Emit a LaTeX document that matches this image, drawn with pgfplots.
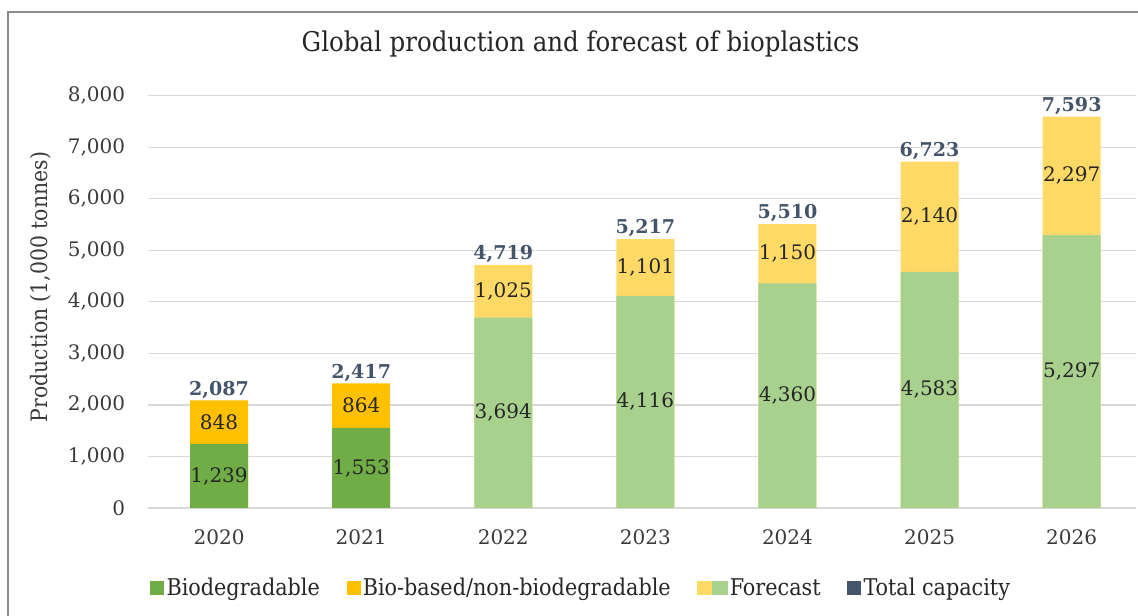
\documentclass[border=0pt]{standalone}
\usepackage{pgfplots}
\usepackage{pgfplotstable}
\pgfplotsset{compat=1.18}
\usepackage{fontspec}
\setmainfont{DejaVu Serif}
\newfontfamily\condfont{DejaVu Serif Condensed}
\definecolor{bioD}{HTML}{70AD47}
\definecolor{bioB}{HTML}{FFC000}
\definecolor{fcY}{HTML}{FFD966}
\definecolor{fcG}{HTML}{A9D18E}
\definecolor{totC}{HTML}{44546A}
\definecolor{tickC}{HTML}{3A3A3A}
\definecolor{labC}{HTML}{262626}
\definecolor{gridC}{HTML}{D9D9D9}
\definecolor{frameC}{HTML}{8C8C8C}

\pgfplotstableread{
x bot top tot
0 1239 848 2087
1 1553 864 2417
}\actualdata
\pgfplotstableread{
x bot top tot
2 3694 1025 4719
3 4116 1101 5217
4 4360 1150 5510
5 4583 2140 6723
6 5297 2297 7593
}\forecastdata

\begin{document}
\begin{tikzpicture}
\useasboundingbox (0,0) rectangle (853.5pt,462pt);
\draw[frameC, line width=0.9pt] (6pt,-5pt) -- (6pt,453pt) -- (870pt,453pt);
\begin{axis}[
  at={(111pt,81pt)}, anchor=south west,
  scale only axis,
  width=743.9pt, height=309.2pt,
  xmin=-0.5, xmax=6.48,
  ymin=0, ymax=8000,
  ytick={0,1000,...,8000},
  xtick={0,1,2,3,4,5,6},
  xticklabels={2020,2021,2022,2023,2024,2025,2026},
  scaled y ticks=false,
  /pgf/number format/.cd, 1000 sep={,}, assume math mode=true,
  /pgfplots/.cd,
  axis line style={draw=none},
  major tick length=0pt,
  ymajorgrids,
  major grid style={gridC, line width=0.9pt},
  tick label style={font=\fontsize{15pt}{17pt}\selectfont, text=tickC},
  yticklabel style={inner sep=0pt, anchor=east, xshift=-17pt},
  xticklabel style={inner sep=0pt, anchor=center, yshift=-22pt},
  ylabel={Production (1,000 tonnes)},
  ylabel style={at={(axis description cs:-0.108,0.536)}, anchor=center, rotate=0, font=\condfont\fontsize{17pt}{19pt}\selectfont, text=tickC},
  title={Global production and forecast of bioplastics},
  title style={at={(axis description cs:0.436,1.105)}, anchor=center, font=\condfont\fontsize{20.4pt}{23pt}\selectfont, text=labC},
  legend style={at={(axis description cs:0.437,-0.194)}, anchor=center, draw=none, fill=none,
    legend columns=4, font=\condfont\fontsize{17.3pt}{19pt}\selectfont, text=labC,
    /tikz/every even column/.append style={column sep=18pt},
    /tikz/every odd column/.append style={column sep=0pt}},
  legend cell align=left,
  clip=false,
]
% bars (top colour at full height, bottom colour over it)
\addplot[ybar, bar width=43.5pt, bar shift=0pt, fill=bioB, draw=none, forget plot] table[x=x, y=tot]{\actualdata};
\addplot[ybar, bar width=43.5pt, bar shift=0pt, fill=bioD, draw=none, forget plot] table[x=x, y=bot]{\actualdata};
\addplot[ybar, bar width=43.5pt, bar shift=0pt, fill=fcY, draw=none, forget plot] table[x=x, y=tot]{\forecastdata};
\addplot[ybar, bar width=43.5pt, bar shift=0pt, fill=fcG, draw=none, forget plot] table[x=x, y=bot]{\forecastdata};
% segment labels
\addplot[draw=none, no markers, forget plot, point meta=explicit, nodes near coords,
  every node near coord/.append style={anchor=center, font=\fontsize{15pt}{17pt}\selectfont, text=labC}]
  table[x=x, y expr=\thisrow{bot}/2, meta=bot]{\actualdata};
\addplot[draw=none, no markers, forget plot, point meta=explicit, nodes near coords,
  every node near coord/.append style={anchor=center, font=\fontsize{15pt}{17pt}\selectfont, text=labC}]
  table[x=x, y expr=\thisrow{bot}+\thisrow{top}/2, meta=top]{\actualdata};
\addplot[draw=none, no markers, forget plot, point meta=explicit, nodes near coords,
  every node near coord/.append style={anchor=center, font=\fontsize{15pt}{17pt}\selectfont, text=labC}]
  table[x=x, y expr=\thisrow{bot}/2, meta=bot]{\forecastdata};
\addplot[draw=none, no markers, forget plot, point meta=explicit, nodes near coords,
  every node near coord/.append style={anchor=center, font=\fontsize{15pt}{17pt}\selectfont, text=labC}]
  table[x=x, y expr=\thisrow{bot}+\thisrow{top}/2, meta=top]{\forecastdata};
% totals
\addplot[draw=none, no markers, forget plot, point meta=explicit, nodes near coords,
  every node near coord/.append style={anchor=south, inner sep=1.5pt, font=\bfseries\fontsize{14.3pt}{16pt}\selectfont, text=totC}]
  table[x=x, y=tot, meta=tot]{\actualdata};
\addplot[draw=none, no markers, forget plot, point meta=explicit, nodes near coords,
  every node near coord/.append style={anchor=south, inner sep=1.5pt, font=\bfseries\fontsize{14.3pt}{16pt}\selectfont, text=totC}]
  table[x=x, y=tot, meta=tot]{\forecastdata};
% legend
\addlegendimage{legend image code/.code={\fill[bioD] (0pt,-4.9pt) rectangle (9.8pt,4.9pt);}}
\addlegendentry{Biodegradable}
\addlegendimage{legend image code/.code={\fill[bioB] (0pt,-4.9pt) rectangle (9.8pt,4.9pt);}}
\addlegendentry{Bio-based/non-biodegradable}
\addlegendimage{legend image code/.code={\fill[fcY] (0pt,-4.9pt) rectangle (11pt,4.9pt);\fill[fcG] (11pt,-4.9pt) rectangle (22pt,4.9pt);}}
\addlegendentry{Forecast}
\addlegendimage{legend image code/.code={\fill[totC] (0pt,-4.9pt) rectangle (9.8pt,4.9pt);}}
\addlegendentry{Total capacity}
\end{axis}
\fill[white] (852.2pt,0) rectangle (856pt,452.4pt);
\end{tikzpicture}
\end{document}
